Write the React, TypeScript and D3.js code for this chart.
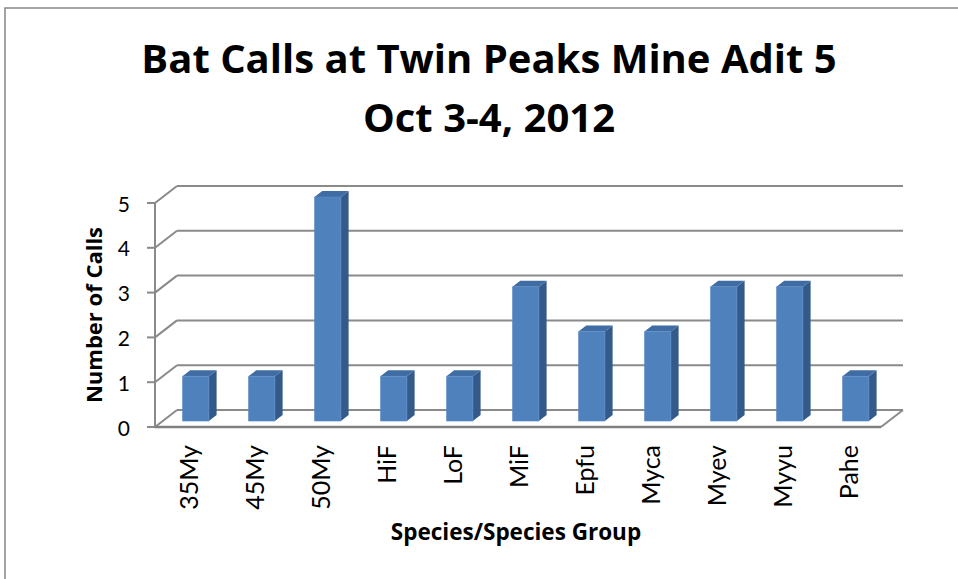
import React from "react";
import * as d3 from "d3";

const categories = ["35My", "45My", "50My", "HiF", "LoF", "MiF", "Epfu", "Myca", "Myev", "Myyu", "Pahe"];
const calls = [1, 1, 5, 1, 1, 3, 2, 2, 3, 3, 1];
const yTicks = [0, 1, 2, 3, 4, 5];
const titleLines = ["Bat Calls at Twin Peaks Mine Adit 5", "Oct 3-4, 2012"];
const yTitle = "Number of Calls";
const xTitle = "Species/Species Group";

const W = 958;
const H = 579;
const FONT = "'Open Sans', sans-serif";
const FONT2 = "Lato, sans-serif";

export default function App() {
  const left = 155;
  const right = 881;
  const baseY = 427;
  const topY = 203;
  const depthX = 22;
  const depthY = 17;
  const x = d3.scaleBand<string>().domain(categories).range([left, right]).padding(0);
  const y = d3.scaleLinear().domain([0, 5]).range([baseY, topY]);
  const bw = x.bandwidth() / 2.5;
  const zFront = 0.35;
  const zBack = 0.7;
  const proj = (px: number, py: number, z: number): [number, number] => [px + z * depthX, py - z * depthY];
  const poly = (pts: [number, number][]) => pts.map((p) => p.join(",")).join(" ");
  const grid = "#8a8a8a";

  return (
    <svg width={W} height={H} style={{ position: "absolute", left: 0, top: 0, background: "#fff" }} fontFamily={FONT}>
      <rect x={5} y={8} width={1200} height={1200} fill="#fff" stroke="#868686" strokeWidth={1.5} />
      {/* title */}
      {titleLines.map((t, i) => (
        <text key={t} x={489} y={73 + i * 59} textAnchor="middle" fontWeight="bold" fontSize={40} fill="#000">
          {t}
        </text>
      ))}
      {/* back wall gridlines and left wall diagonals */}
      {yTicks.map((v) => {
        const [bx, by] = proj(left, y(v), 1);
        return (
          <g key={v}>
            <line x1={left} y1={y(v)} x2={bx} y2={by} stroke={grid} strokeWidth={2} />
            <line x1={bx} y1={by} x2={right + depthX} y2={by} stroke={grid} strokeWidth={2} />
            <line x1={left - 8} y1={y(v)} x2={left} y2={y(v)} stroke={grid} strokeWidth={2} />
            <text x={130} y={y(v)} textAnchor="end" dominantBaseline="central" fontSize={21} fontFamily={FONT2} fill="#000">
              {v}
            </text>
          </g>
        );
      })}
      {/* floor */}
      <line x1={right} y1={baseY} x2={right + depthX} y2={baseY - depthY} stroke={grid} strokeWidth={2} />
      <line x1={left} y1={baseY} x2={right} y2={baseY} stroke="#808080" strokeWidth={2.5} />
      <line x1={left} y1={y(5)} x2={left} y2={baseY} stroke={grid} strokeWidth={2} />
      {/* bars */}
      {categories.map((c, i) => {
        const x0 = (x(c) as number) + (x.bandwidth() - bw) / 2;
        const x1 = x0 + bw;
        const yt = y(calls[i]);
        const yb = y(0);
        const fbl = proj(x0, yb, zFront);
        const fbr = proj(x1, yb, zFront);
        const ftl = proj(x0, yt, zFront);
        const ftr = proj(x1, yt, zFront);
        const bbr = proj(x1, yb, zBack);
        const btl = proj(x0, yt, zBack);
        const btr = proj(x1, yt, zBack);
        return (
          <g key={c}>
            <polygon points={poly([fbr, bbr, btr, ftr])} fill="#335A8A" />
            <polygon points={poly([ftl, ftr, btr, btl])} fill="#3F6CA3" />
            <polygon points={poly([fbl, fbr, ftr, ftl])} fill="#4F81BD" stroke="#5a8ac4" strokeWidth={0.6} />
          </g>
        );
      })}
      {/* x labels */}
      {categories.map((c) => {
        const cx = (x(c) as number) + x.bandwidth() / 2;
        return (
          <text
            key={c}
            transform={`translate(${cx},445) rotate(-90)`}
            textAnchor="end"
            dominantBaseline="central"
            fontSize={25}
            fontFamily={FONT2}
            fill="#000"
          >
            {c}
          </text>
        );
      })}
      <text transform="translate(93,315) rotate(-90)" textAnchor="middle" dominantBaseline="central" fontWeight="bold" fontSize={22} fill="#000">
        {yTitle}
      </text>
      <text x={516} y={540} textAnchor="middle" fontWeight="bold" fontSize={22.5} fill="#000">
        {xTitle}
      </text>
    </svg>
  );
}
